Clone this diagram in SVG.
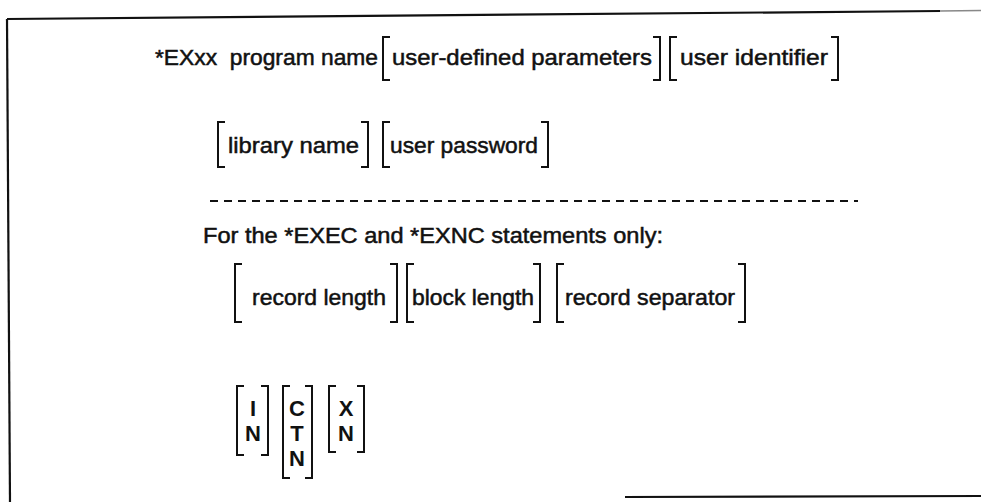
<svg xmlns="http://www.w3.org/2000/svg" width="981" height="502" viewBox="0 0 981 502">
<style>
text{font-family:"Liberation Sans",Arial,sans-serif;font-size:22px;fill:#111;stroke:#111;stroke-width:0.5}
.b{fill:none;stroke:#111;stroke-width:2}
.frame{fill:none;stroke:#111;stroke-width:2.2}
.c{text-anchor:middle;font-weight:bold;stroke-width:0}
</style>
<rect width="981" height="502" fill="#fff"/>
<g id="frame">
<path class="frame" d="M7 19 L940 11"/>
<path d="M940 11 L981 10.6" stroke="#888" stroke-width="1.5"/>
<path class="frame" d="M7 19 L10 502"/>
<path class="frame" d="M625 497 L981 496"/>
</g>
<g id="row1">
<text x="155" y="65" style="white-space:pre" textLength="223" lengthAdjust="spacingAndGlyphs">*EXxx  program name</text>
<g id="user-defined-parameters">
<path class="b" d="M390 37 H383 V80 H390"/>
<text x="392" y="65" textLength="260" lengthAdjust="spacingAndGlyphs">user-defined parameters</text>
<path class="b" d="M653 37 H660 V80 H653"/>
</g>
<g id="user-identifier">
<path class="b" d="M677 37 H670 V80 H677"/>
<text x="680" y="65" textLength="148" lengthAdjust="spacingAndGlyphs">user identifier</text>
<path class="b" d="M831 37 H838 V80 H831"/>
</g>
</g>
<g id="row2">
<g id="library-name">
<path class="b" d="M225 122 H218 V167 H225"/>
<text x="228" y="153" textLength="131" lengthAdjust="spacingAndGlyphs">library name</text>
<path class="b" d="M361 122 H368 V167 H361"/>
</g>
<g id="user-password">
<path class="b" d="M390 122 H383 V167 H390"/>
<text x="390" y="153" textLength="148" lengthAdjust="spacingAndGlyphs">user password</text>
<path class="b" d="M541 122 H548 V167 H541"/>
</g>
</g>
<g id="separator">
<path d="M210 201 H858" stroke="#111" stroke-width="2" stroke-dasharray="8 6"/>
</g>
<text x="203" y="243" textLength="460" lengthAdjust="spacingAndGlyphs">For the *EXEC and *EXNC statements only:</text>
<g id="row3">
<g id="record-length">
<path class="b" d="M242 264 H235 V322 H242"/>
<text x="252" y="305" textLength="134" lengthAdjust="spacingAndGlyphs">record length</text>
<path class="b" d="M390 264 H397 V322 H390"/>
</g>
<g id="block-length">
<path class="b" d="M414 264 H407 V322 H414"/>
<text x="412" y="305" textLength="122" lengthAdjust="spacingAndGlyphs">block length</text>
<path class="b" d="M533 264 H540 V322 H533"/>
</g>
<g id="record-separator">
<path class="b" d="M564 264 H557 V322 H564"/>
<text x="565" y="305" textLength="170" lengthAdjust="spacingAndGlyphs">record separator</text>
<path class="b" d="M738 264 H745 V322 H738"/>
</g>
</g>
<g id="option-IN">
<path class="b" d="M244 386 H237 V455 H244"/>
<text class="c" x="253" y="416">I</text>
<text class="c" x="253" y="441">N</text>
<path class="b" d="M261 386 H268 V455 H261"/>
</g>
<g id="option-CTN">
<path class="b" d="M290 386 H283 V478 H290"/>
<text class="c" x="297" y="416">C</text>
<text class="c" x="297" y="441">T</text>
<text class="c" x="297" y="466">N</text>
<path class="b" d="M305 386 H312 V478 H305"/>
</g>
<g id="option-XN">
<path class="b" d="M336 386 H329 V452 H336"/>
<text class="c" x="346" y="416">X</text>
<text class="c" x="346" y="441">N</text>
<path class="b" d="M357 386 H364 V452 H357"/>
</g>
</svg>
